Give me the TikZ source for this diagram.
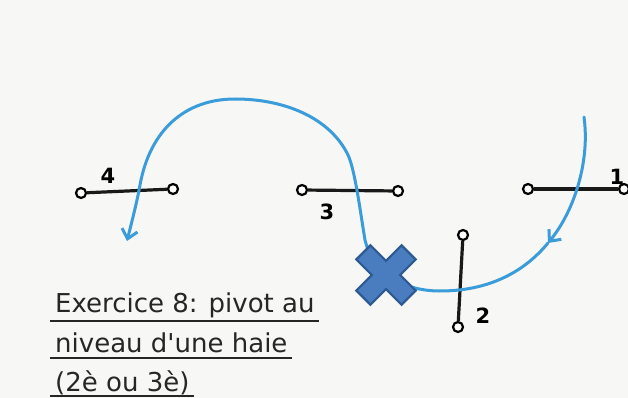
\documentclass[tikz,border=0pt]{standalone}
\usepackage{fontspec}
\setmainfont{DejaVu Sans}
\usetikzlibrary{arrows.meta, positioning}
\definecolor{paper}{HTML}{F7F7F5}
\definecolor{runblue}{HTML}{3A9CD9}
\definecolor{crossfill}{HTML}{4A7DC0}
\definecolor{crossedge}{HTML}{2E5A92}

\begin{document}
\begin{tikzpicture}[x=1pt, y=-1pt,
    post/.style={draw, circle, line width=2.2pt, minimum size=10pt, inner sep=0pt, fill=white},
    bar/.style={line width=3.2pt, black!90},
    num/.style={font=\fontsize{21}{21}\selectfont\bfseries},
    title/.style={anchor=base west, inner sep=0pt, font=\fontsize{26}{26}\selectfont, text=black!85},
    uline/.style={line width=1.6pt, black!85},
    run/.style={runblue, line width=3pt, line cap=round, line join=round,
        -{Straight Barb[length=9pt, width=16pt]}}]
            % page
            \fill[paper] (0,0) rectangle (628,398);
            \useasboundingbox (0,0) rectangle (628,398);

            % Haie 4
            \node[post] (h4a) at (81,193) {};
            \node[post] (h4b) at (173,189) {};
            \draw[bar] (h4a) -- (h4b);
            \node[num] (n4) at (108,176) {4};

            % Haie 3
            \node[post] (h3a) at (302,190) {};
            \node[post] (h3b) at (398,191) {};
            \draw[bar] (h3a) -- (h3b);
            \node[num] (n3) at (327,212) {3};

            % Haie 1
            \node[post] (h1a) at (528,189) {};
            \node[post] (h1b) at (624,189) {};
            \draw[bar] (h1a) -- (h1b);
            \node[num] (n1) at (617,177) {1};

            % Haie 2
            \node[post] (h2a) at (463,235) {};
            \node[post] (h2b) at (458,327) {};
            \draw[bar] (h2a) -- (h2b);
            \node[num] (n2) at (483,316) {2};

            % trajet
            \coordinate (depart) at (584,117);
            \coordinate (milieu) at (548,243);
            \coordinate (arrivee) at (127,241);
            \draw[run] (depart) .. controls (590,160) and (575,210) .. (milieu);
            \draw[run] (milieu) .. controls (525,271) and (490,291) .. (440,291)
                .. controls (400,291) and (372,270) .. (365,240)
                .. controls (360,210) and (355,170) .. (348,155)
                .. controls (330,118) and (285,99) .. (235,99)
                .. controls (185,99) and (150,130) .. (140,185)
                .. controls (137,202) and (131,225) .. (arrivee);

            % croix
            \coordinate (pivot) at (386,275);
            \begin{scope}[shift={(pivot)}, rotate=45]
                \draw[fill=crossfill, draw=crossedge, line width=2.2pt, line join=miter]
                    (10,10) -- (32,10) -- (32,-10) -- (10,-10) -- (10,-32) -- (-10,-32) -- (-10,-10)
                    -- (-32,-10) -- (-32,10) -- (-10,10) -- (-10,32) -- (10,32) -- cycle;
            \end{scope}

            % titre
            \node[title] (ex1) at (55,312) {Exercice 8: pivot au};
            \node[title] (ex2) at (55,352) {niveau d\textquotesingle une haie};
            \node[title] (ex3) at (55,391) {(2è ou 3è)};
            \draw[uline] ([shift={(-5,9)}]ex1.base west) -- ([shift={(4,9)}]ex1.base east);
            \draw[uline] ([shift={(-5,6)}]ex2.base west) -- ([shift={(4,6)}]ex2.base east);
            \draw[uline] ([shift={(-5,5)}]ex3.base west) -- ([shift={(4,5)}]ex3.base east);
        \end{tikzpicture}
\end{document}
